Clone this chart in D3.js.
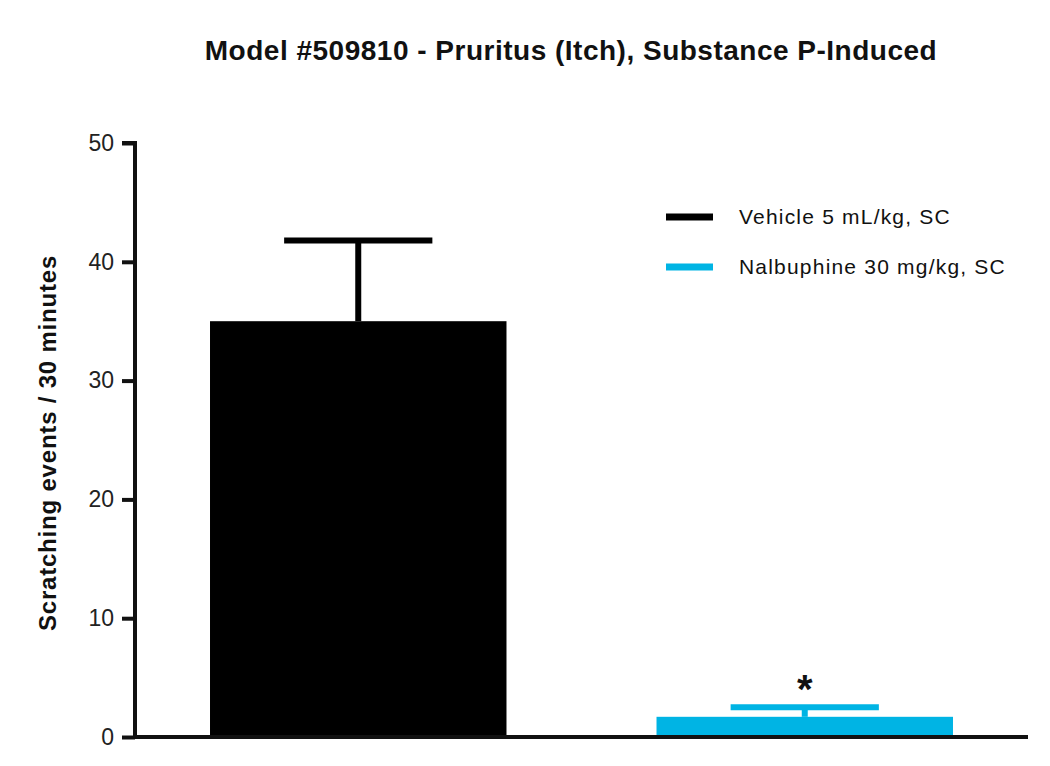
<!DOCTYPE html>
<html>
<head>
<meta charset="utf-8">
<script src="https://cdn.jsdelivr.net/npm/d3@7"></script>
<style>
  body { margin: 0; background: #fff; }
  text { font-family: "Liberation Sans", Arial, sans-serif; }
</style>
</head>
<body>
<div id="chart"></div>
<script>
// data
let groups = ["Vehicle 5 mL/kg, SC", "Nalbuphine 30 mg/kg, SC"];
let means = [35, 1.7];
let errTops = [41.8, 2.5];
let colors = ["#000000", "#00b4e4"];
let marks = ["", "*"];
let yTicks = [0, 10, 20, 30, 40, 50];

let W = 1050, H = 766;
let margin = {top: 143, right: 22, bottom: 29, left: 135};

let svg = d3.select("#chart").append("svg")
    .attr("width", W)
    .attr("height", H);

let x = d3.scaleBand()
    .domain(groups)
    .range([margin.left, W - margin.right])
    .paddingInner(0.336)
    .paddingOuter(0.168);

let y = d3.scaleLinear()
    .domain([0, 50])
    .range([H - margin.bottom, margin.top]);

// title
svg.append("text")
    .attr("x", 571)
    .attr("y", 60)
    .attr("text-anchor", "middle")
    .attr("font-size", 28)
    .attr("font-weight", "bold")
    .attr("letter-spacing", 0.5)
    .attr("fill", "#111")
    .text("Model #509810 - Pruritus (Itch), Substance P-Induced");

// bars
svg.selectAll(".bar")
    .data(groups)
    .enter()
    .append("rect")
    .attr("class", "bar")
    .attr("x", d => x(d))
    .attr("width", x.bandwidth())
    .attr("y", (d, i) => y(means[i]))
    .attr("height", (d, i) => y(0) - y(means[i]))
    .attr("fill", (d, i) => colors[i]);

// error bars (upper only)
let capW = x.bandwidth() * 0.5;
groups.forEach(function(g, i) {
    let cx = x(g) + x.bandwidth() / 2;
    svg.append("line")
        .attr("x1", cx).attr("x2", cx)
        .attr("y1", y(means[i])).attr("y2", y(errTops[i]))
        .attr("stroke", colors[i])
        .attr("stroke-width", 6);
    svg.append("line")
        .attr("x1", cx - capW / 2).attr("x2", cx + capW / 2)
        .attr("y1", y(errTops[i])).attr("y2", y(errTops[i]))
        .attr("stroke", colors[i])
        .attr("stroke-width", 6);
    if (marks[i]) {
        svg.append("text")
            .attr("x", cx)
            .attr("y", y(errTops[i]) - 4)
            .attr("text-anchor", "middle")
            .attr("font-size", 40)
            .attr("font-weight", "bold")
            .attr("fill", "#111")
            .text(marks[i]);
    }
});

// y axis
let yAxis = svg.append("g")
    .attr("transform", "translate(" + margin.left + ",0)")
    .call(d3.axisLeft(y).tickValues(yTicks).tickSize(13).tickPadding(8));
yAxis.select(".domain")
    .attr("stroke", "#111")
    .attr("stroke-width", 4)
    .attr("d", "M-13," + y(50) + "H0V" + (y(0) + 2));
yAxis.selectAll(".tick line").attr("stroke", "#111").attr("stroke-width", 4);
yAxis.selectAll(".tick text")
    .attr("font-size", 23)
    .attr("fill", "#222")
    .attr("font-family", "Liberation Sans, Arial, sans-serif");

// x axis baseline
svg.append("line")
    .attr("x1", margin.left - 2)
    .attr("x2", W - margin.right)
    .attr("y1", y(0)).attr("y2", y(0))
    .attr("stroke", "#111")
    .attr("stroke-width", 4);

// y axis label
svg.append("text")
    .attr("transform", "translate(56," + ((y(0) + y(50)) / 2 + 3) + ") rotate(-90)")
    .attr("text-anchor", "middle")
    .attr("font-size", 24)
    .attr("font-weight", "bold")
    .attr("letter-spacing", 0.8)
    .attr("fill", "#111")
    .text("Scratching events / 30 minutes");

// legend
let legend = svg.append("g").attr("transform", "translate(666,217)");
groups.forEach(function(g, i) {
    let row = legend.append("g").attr("transform", "translate(0," + i * 50 + ")");
    row.append("line")
        .attr("x1", 0).attr("x2", 47)
        .attr("stroke", colors[i])
        .attr("stroke-width", 7);
    row.append("text")
        .attr("x", 73)
        .attr("y", 7)
        .attr("font-size", 21)
        .attr("letter-spacing", 1.2)
        .attr("fill", "#111")
        .text(g);
});
</script>
</body>
</html>
